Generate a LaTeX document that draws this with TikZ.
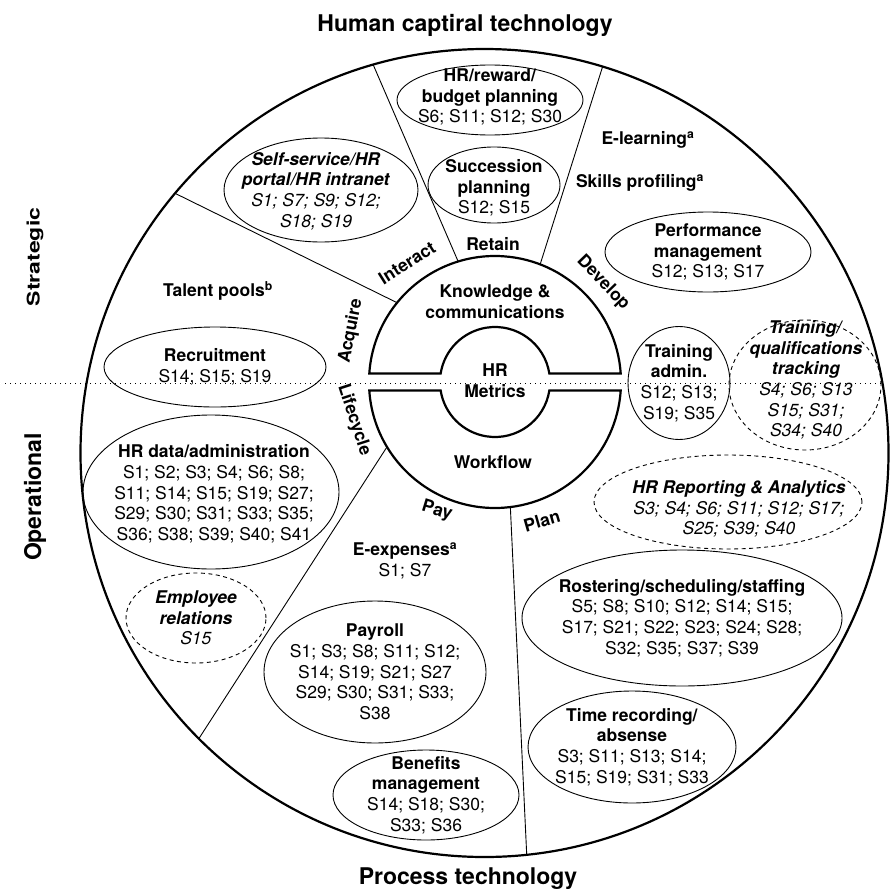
\documentclass[tikz,border=0pt]{standalone}
\usepackage{fontspec}
\setmainfont{TeX Gyre Heros}
\usetikzlibrary{shapes.geometric,calc}

\begin{document}
\begin{tikzpicture}[x=1pt,y=1pt,
  every node/.style={inner sep=0pt, outer sep=0pt},
  txt/.style={align=center, font=\fontsize{17.5}{20.7}\selectfont},
  hd/.style={align=center, font=\fontsize{17.5}{20.7}\selectfont\bfseries},
  big/.style={font=\fontsize{23}{27}\selectfont\bfseries},
  oval/.style={ellipse, draw, line width=0.9pt},
  dashoval/.style={oval, dash pattern=on 4pt off 3.5pt},
  rimline/.style={line width=2.2pt},
  spoke/.style={line width=0.9pt},
  divider/.style={line width=1pt, dash pattern=on 1pt off 4pt},
]
\useasboundingbox (0,0) rectangle (889,-891);

% outer wheel and the hidden circle that carries the hub
\node[circle, draw, rimline, minimum size=808] (rim) at (484.5,-453) {};
\node[circle, minimum size=252] (core) at (495,-382) {};

% hub: two half rings split by a narrow horizontal gap
\pgfmathsetmacro\ga{asin(8.5/126)}
\pgfmathsetmacro\gb{asin(8.5/55)}
\pgfmathsetmacro\uL{180-\ga}
\pgfmathsetmacro\uLi{180-\gb}
\pgfmathsetmacro\lL{180+\ga}
\pgfmathsetmacro\lR{360-\ga}
\pgfmathsetmacro\lRi{360-\gb}
\pgfmathsetmacro\lLi{180+\gb}
\draw[rimline] ($(core.center)+(\uL:126)$) arc[start angle=\uL, end angle=\ga, radius=126]
  -- ($(core.center)+(\gb:55)$) arc[start angle=\gb, end angle=\uLi, radius=55] -- cycle;
\draw[rimline] ($(core.center)+(\lL:126)$) arc[start angle=\lL, end angle=\lR, radius=126]
  -- ($(core.center)+(\lRi:55)$) arc[start angle=\lRi, end angle=\lLi, radius=55] -- cycle;

% spokes between the hub and the wheel
\draw[spoke] (core.141.7) -- (rim.140.2);
\draw[spoke] (core.107.6) -- (rim.106.5);
\draw[spoke] (core.69.3) -- (rim.73.9);
\draw[spoke] (core.211.3) -- (rim.225.25);
\draw[spoke] (core.277.8) -- (rim.276.2);

% strategic / operational divider
\coordinate (dotl) at (5,-383);
\coordinate (dotr) at (882,-383);
\draw[divider] (dotl) -- (dotr);

% hub labels
\node[hd] (kc) at (495,-302) {Knowledge \&\\communications};
\node[hd] (metrics) at (495,-381) {HR\\Metrics};
\node[hd] (workflow) at (493,-462) {Workflow};

% sector labels
\node[hd, rotate=32] (interact) at (407,-263) {Interact};
\node[hd] (retain) at (493,-244) {Retain};
\node[hd, rotate=-46] (develop) at (603,-283) {Develop};
\node[hd, rotate=79] (acquire) at (351,-331) {Acquire};
\node[hd, rotate=-72] (lifecycle) at (354,-420) {Lifecycle};
\node[hd, rotate=-17] (pay) at (437,-511) {Pay};
\node[hd, rotate=16] (plan) at (542,-521) {Plan};

% axis titles
\node[big] (human) at (465,-25) {Human captiral technology};
\node[big] (process) at (468,-879) {Process technology};
\node[big, rotate=90, yscale=0.76] (strategic) at (35,-257) {Strategic};
\node[big, rotate=90] (operational) at (35,-497) {Operational};

% Retain
\node[oval, minimum width=186, minimum height=70] (budget) at (490,-100) {};
\node[txt] (budgett) at (490,-97) {\textbf{HR/reward/}\\\textbf{budget planning}\\S6; S11; S12; S30};
\node[oval, minimum width=132, minimum height=76] (succ) at (494,-185) {};
\node[txt] (succt) at (494,-188) {\textbf{Succession}\\\textbf{planning}\\S12; S15};

% Interact
\node[oval, minimum width=194, minimum height=104] (self) at (321,-190) {};
\node[txt] (selft) at (316,-191) {\textbf{\textit{Self-service/HR}}\\\textbf{\textit{portal/HR intranet}}\\\textit{S1; S7; S9; S12;}\\\textit{S18; S19}};

% Develop
\node[hd] (elearn) at (648,-140) {E-learning\textsuperscript{a}};
\node[hd] (skills) at (640,-183) {Skills profiling\textsuperscript{a}};
\node[oval, minimum width=206, minimum height=80] (perf) at (708,-252) {};
\node[txt] (perft) at (708,-252) {\textbf{Performance}\\\textbf{management}\\S12; S13; S17};
\node[oval, minimum width=102, minimum height=113] (tadmin) at (679,-383) {};
\node[txt] (tadmint) at (679,-383) {\textbf{Training}\\\textbf{admin.}\\S12; S13;\\S19; S35};
\node[dashoval, minimum width=152, minimum height=130] (track) at (805,-385) {};
\node[txt] (trackt) at (806,-380) {\textbf{\textit{Training/}}\\\textbf{\textit{qualifications}}\\\textbf{\textit{tracking}}\\\textit{S4; S6; S13}\\\textit{S15; S31;}\\\textit{S34; S40}};

% Acquire
\node[hd] (talent) at (218,-291) {Talent pools\textsuperscript{b}};
\node[oval, minimum width=222, minimum height=80] (recruit) at (215,-367) {};
\node[txt] (recruitt) at (215,-367) {\textbf{Recruitment}\\S14; S15; S19};

% Lifecycle
\node[oval, minimum width=256, minimum height=154] (hrdata) at (211,-492) {};
\node[txt] (hrdatat) at (214,-494) {\textbf{HR data/administration}\\S1; S2; S3; S4; S6; S8;\\S11; S14; S15; S19; S27;\\S29; S30; S31; S33; S35;\\S36; S38; S39; S40; S41};
\node[dashoval, minimum width=140, minimum height=90] (empl) at (196,-618) {};
\node[txt] (emplt) at (196,-618) {\textbf{\textit{Employee}}\\\textbf{\textit{relations}}\\\textit{S15}};

% Pay
\node[txt] (eexp) at (405,-561) {\textbf{E-expenses\textsuperscript{a}}\\S1; S7};
\node[oval, minimum width=222, minimum height=142] (payroll) at (375,-672) {};
\node[txt] (payrollt) at (375,-672) {\textbf{Payroll}\\S1; S3; S8; S11; S12;\\S14; S19; S21; S27\\S29; S30; S31; S33;\\S38};
\node[oval, minimum width=186, minimum height=90] (benef) at (426,-795) {};
\node[txt] (beneft) at (426,-795) {\textbf{Benefits}\\\textbf{management}\\S14; S18; S30;\\S33; S36};

% Plan
\node[dashoval, minimum width=268, minimum height=94] (report) at (728,-502) {};
\node[txt] (reportt) at (739,-509) {\textbf{\textit{HR Reporting \& Analytics}}\\\textit{S3; S4; S6; S11; S12; S17;}\\\textit{S25; S39; S40}};
\node[oval, minimum width=320, minimum height=136] (roster) at (682,-618) {};
\node[txt] (rostert) at (682,-618) {\textbf{Rostering/scheduling/staffing}\\S5; S8; S10; S12; S14; S15;\\S17; S21; S22; S23; S24; S28;\\S32; S35; S37; S39};
\node[oval, minimum width=208, minimum height=112] (time) at (632,-747) {};
\node[txt] (timet) at (632,-747) {\textbf{Time recording/}\\\textbf{absense}\\S3; S11; S13; S14;\\S15; S19; S31; S33};

\end{tikzpicture}
\end{document}
